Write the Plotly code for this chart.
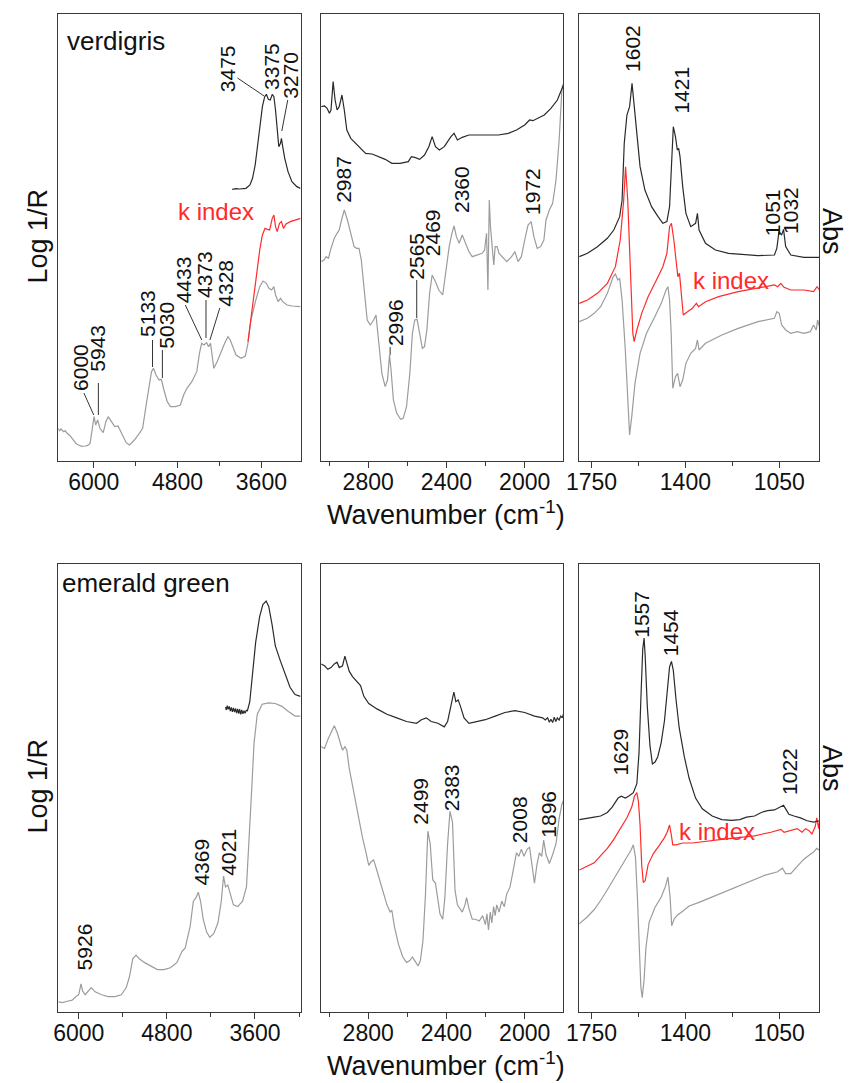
import plotly.graph_objects as go

W, H = 849, 1083
FONT = "Liberation Sans, Arial, sans-serif"

# ---------------- data (wavenumber cm-1, intensity in arbitrary units) ----------------
# verdigris, NIR region: Log 1/R (grey), k index (red), absorbance (black)
VER_NIR_LOGR = [(6507, 98), (6490, 90), (6470, 96), (6451, 92), (6430, 88), (6410, 91), (6380, 83),
                (6340, 76), (6287, 63), (6250, 52), (6216, 48), (6170, 44), (6122, 45), (6085, 47),
                (6052, 53), (6019, 93), (5995, 133), (5972, 108), (5944, 123), (5911, 98), (5864, 85),
                (5826, 118), (5793, 133), (5746, 118), (5699, 103), (5652, 105), (5605, 83), (5535, 55),
                (5488, 48), (5418, 63), (5347, 83), (5300, 98), (5253, 163), (5206, 233), (5173, 268),
                (5145, 278), (5108, 258), (5065, 243), (5032, 245), (4995, 213), (4948, 178), (4901, 163),
                (4830, 163), (4760, 168), (4713, 198), (4666, 218), (4596, 238), (4525, 268), (4487, 323),
                (4455, 353), (4422, 348), (4384, 355), (4356, 343), (4328, 353), (4281, 278), (4234, 298),
                (4187, 323), (4126, 353), (4079, 373), (4046, 363), (4009, 343), (3962, 318), (3891, 308),
                (3830, 315), (3792, 353), (3750, 423), (3680, 483), (3624, 523), (3577, 540), (3529, 533),
                (3492, 518), (3454, 513), (3421, 523), (3398, 498), (3360, 478), (3327, 488), (3295, 478),
                (3233, 468), (3163, 465), (3040, 463)]
VER_NIR_K = [(3792, 358), (3764, 403), (3727, 463), (3689, 523), (3656, 583), (3624, 633), (3586, 678),
             (3548, 698), (3515, 695), (3482, 693), (3445, 728), (3421, 738), (3398, 703), (3374, 688),
             (3341, 713), (3313, 718), (3285, 698), (3248, 711), (3186, 718), (3116, 723), (3040, 728)]
VER_NIR_ABS = [(4018, 815), (3960, 817), (3915, 816), (3870, 818), (3821, 818), (3764, 828), (3727, 848),
               (3689, 888), (3656, 943), (3624, 1003), (3586, 1063), (3553, 1093), (3529, 1100),
               (3501, 1085), (3473, 1083), (3445, 1100), (3421, 1093), (3398, 1053), (3369, 983),
               (3351, 943), (3327, 953), (3313, 968), (3295, 943), (3266, 908), (3219, 868), (3163, 838),
               (3093, 823), (3040, 818)]

# verdigris, MIR combination region
VER_MIR_ABS = [(3040, 1063), (3023, 1065), (3010, 1058), (2998, 1043), (2990, 1053), (2979, 1138),
               (2969, 1083), (2959, 1053), (2948, 1063), (2934, 1098), (2922, 1053), (2909, 993),
               (2889, 968), (2864, 953), (2839, 938), (2813, 923), (2780, 921), (2746, 913), (2713, 905),
               (2679, 893), (2637, 893), (2595, 898), (2579, 913), (2562, 911), (2537, 905), (2512, 918),
               (2490, 943), (2473, 973), (2456, 943), (2436, 933), (2411, 943), (2394, 958), (2377, 973),
               (2361, 983), (2344, 963), (2319, 971), (2285, 978), (2235, 978), (2185, 978), (2134, 978),
               (2084, 983), (2042, 993), (2000, 1008), (1975, 1023), (1958, 1021), (1933, 1028),
               (1900, 1038), (1866, 1058), (1833, 1083), (1802, 1128)]
VER_MIR_LOGR = [(3040, 598), (3026, 603), (3015, 613), (3003, 608), (2990, 638), (2973, 668), (2959, 683),
                (2948, 693), (2936, 723), (2922, 753), (2906, 723), (2889, 683), (2872, 643), (2859, 638),
                (2847, 638), (2835, 603), (2822, 523), (2805, 423), (2789, 408), (2772, 423), (2760, 438),
                (2746, 353), (2730, 263), (2713, 223), (2701, 243), (2691, 318), (2683, 273), (2671, 183),
                (2654, 143), (2634, 125), (2621, 128), (2604, 163), (2587, 263), (2574, 383), (2562, 423),
                (2550, 425), (2537, 383), (2523, 338), (2512, 343), (2500, 393), (2486, 503), (2473, 558),
                (2456, 538), (2439, 513), (2419, 498), (2403, 563), (2386, 643), (2372, 683), (2361, 705),
                (2349, 673), (2335, 653), (2319, 678), (2302, 653), (2285, 628), (2268, 613), (2243, 618),
                (2218, 623), (2205, 633), (2195, 683), (2188, 513), (2181, 783), (2175, 703), (2165, 623),
                (2158, 588), (2151, 643), (2141, 643), (2131, 623), (2114, 613), (2092, 598), (2067, 613),
                (2050, 628), (2034, 598), (2017, 613), (2000, 663), (1983, 708), (1967, 718), (1953, 673),
                (1936, 638), (1919, 643), (1902, 663), (1891, 723), (1874, 753), (1857, 773), (1840, 843),
                (1824, 963), (1810, 1113), (1802, 1133)]

# verdigris, MIR fundamental region
VER_FIR_ABS = [(1796, 613), (1765, 623), (1728, 643), (1691, 668), (1667, 693), (1655, 713), (1645, 733),
               (1636, 783), (1628, 953), (1618, 1038), (1608, 1063), (1599, 1133), (1590, 1053),
               (1581, 983), (1569, 883), (1551, 813), (1526, 763), (1502, 733), (1484, 713), (1469, 718),
               (1459, 763), (1452, 883), (1445, 1003), (1437, 973), (1430, 933), (1425, 938), (1420, 913),
               (1410, 823), (1398, 743), (1380, 703), (1362, 713), (1355, 743), (1349, 693), (1325, 653),
               (1288, 633), (1239, 623), (1178, 618), (1129, 616), (1068, 618), (1059, 638), (1051, 688),
               (1041, 678), (1034, 695), (1026, 643), (1007, 618), (958, 611), (900, 611)]
VER_FIR_K = [(1796, 473), (1765, 483), (1728, 503), (1691, 533), (1661, 583), (1643, 663), (1630, 783),
             (1623, 883), (1615, 783), (1606, 583), (1596, 383), (1591, 358), (1581, 393), (1563, 443),
             (1539, 493), (1508, 543), (1484, 583), (1469, 623), (1459, 703), (1452, 713), (1443, 663),
             (1435, 603), (1428, 553), (1422, 563), (1416, 503), (1408, 438), (1392, 448), (1374, 458),
             (1359, 473), (1351, 463), (1325, 478), (1276, 493), (1203, 508), (1129, 518), (1068, 528),
             (1056, 523), (1044, 533), (1032, 521), (1007, 513), (958, 513), (922, 508), (909, 523),
             (900, 513)]
VER_FIR_LOGR = [(1796, 418), (1765, 428), (1740, 443), (1716, 463), (1691, 503), (1669, 553), (1661, 561),
                (1652, 543), (1645, 548), (1636, 483), (1624, 333), (1615, 183), (1608, 78), (1600, 133),
                (1588, 233), (1569, 323), (1545, 383), (1514, 433), (1490, 473), (1472, 513), (1465, 523),
                (1459, 483), (1453, 383), (1447, 218), (1437, 253), (1429, 263), (1420, 223), (1410, 243),
                (1398, 293), (1380, 323), (1362, 338), (1355, 363), (1349, 333), (1325, 353), (1264, 378),
                (1203, 398), (1129, 418), (1068, 428), (1059, 448), (1050, 443), (1041, 408), (1026, 393),
                (1007, 383), (983, 388), (958, 383), (934, 388), (922, 408), (912, 393), (907, 423),
                (900, 403)]

# emerald green, NIR region
EM_NIR_LOGR = [(6277, 28), (6223, 26), (6156, 30), (6089, 33), (6036, 43), (6000, 48), (5969, 78),
               (5946, 58), (5911, 48), (5875, 58), (5830, 68), (5777, 56), (5688, 48), (5599, 43),
               (5509, 43), (5420, 48), (5353, 68), (5309, 98), (5264, 148), (5219, 158), (5175, 148),
               (5108, 138), (5019, 128), (4929, 118), (4840, 118), (4751, 123), (4662, 138), (4595, 168),
               (4550, 178), (4483, 238), (4439, 308), (4403, 318), (4372, 333), (4341, 308), (4305, 258),
               (4260, 223), (4216, 208), (4162, 218), (4104, 248), (4059, 308), (4028, 378), (4001, 348),
               (3970, 353), (3939, 328), (3894, 298), (3836, 293), (3769, 308), (3716, 348), (3680, 468),
               (3645, 618), (3613, 748), (3569, 828), (3502, 856), (3412, 860), (3323, 858), (3234, 850),
               (3145, 836), (3055, 823), (2980, 823)]
EM_NIR_ABS = [(4001, 848), (3990, 840), (3978, 852), (3965, 842), (3950, 850), (3936, 837), (3922, 847),
              (3908, 835), (3893, 846), (3879, 834), (3864, 844), (3850, 831), (3836, 843), (3822, 830),
              (3808, 842), (3794, 828), (3780, 840), (3765, 829), (3750, 838), (3735, 831), (3718, 839),
              (3703, 838), (3671, 863), (3636, 928), (3591, 1028), (3538, 1098), (3493, 1133), (3448, 1143),
              (3413, 1128), (3368, 1078), (3323, 1018), (3257, 978), (3190, 938), (3123, 903), (3055, 883),
              (2980, 878)]

# emerald green, MIR combination region
EM_MIR_ABS = [(3040, 968), (3023, 963), (3006, 953), (2990, 958), (2973, 968), (2959, 973), (2948, 958),
              (2931, 963), (2919, 990), (2909, 973), (2897, 948), (2880, 933), (2855, 918), (2839, 908),
              (2822, 878), (2797, 858), (2755, 843), (2704, 828), (2654, 818), (2604, 808), (2553, 803),
              (2528, 813), (2503, 818), (2478, 808), (2444, 803), (2411, 793), (2394, 808), (2377, 848),
              (2362, 890), (2352, 863), (2340, 868), (2327, 848), (2310, 818), (2285, 803), (2243, 808),
              (2201, 813), (2151, 823), (2101, 833), (2050, 838), (2000, 833), (1950, 823), (1908, 818),
              (1895, 812), (1883, 818), (1874, 806), (1866, 814), (1857, 805), (1849, 820), (1841, 808),
              (1833, 818), (1824, 812), (1816, 823), (1808, 818), (1802, 828)]
EM_MIR_LOGR = [(3040, 738), (3023, 733), (3006, 758), (2990, 778), (2973, 796), (2959, 778), (2948, 758),
               (2931, 728), (2919, 738), (2909, 728), (2897, 678), (2880, 628), (2864, 578), (2847, 538),
               (2830, 488), (2813, 448), (2797, 408), (2785, 418), (2772, 423), (2755, 393), (2730, 348),
               (2704, 298), (2688, 278), (2679, 283), (2666, 238), (2645, 188), (2623, 153), (2604, 138),
               (2587, 143), (2574, 153), (2562, 143), (2545, 128), (2533, 143), (2520, 198), (2507, 328),
               (2495, 503), (2483, 468), (2470, 368), (2456, 358), (2445, 318), (2433, 273), (2419, 258),
               (2408, 318), (2394, 468), (2382, 558), (2369, 528), (2356, 338), (2344, 298), (2332, 288),
               (2319, 278), (2305, 298), (2297, 318), (2285, 288), (2268, 258), (2251, 258), (2232, 253),
               (2215, 268), (2201, 243), (2193, 273), (2185, 228), (2176, 278), (2168, 248), (2159, 293),
               (2151, 268), (2143, 298), (2131, 278), (2117, 308), (2104, 293), (2092, 328), (2075, 348),
               (2059, 393), (2042, 443), (2030, 433), (2017, 453), (2004, 433), (1987, 453), (1975, 458),
               (1963, 408), (1950, 358), (1938, 408), (1925, 443), (1913, 433), (1903, 478), (1891, 438),
               (1874, 413), (1857, 438), (1840, 468), (1824, 538), (1810, 578), (1802, 588)]

# emerald green, MIR fundamental region
EM_FIR_ABS = [(1796, 535), (1765, 538), (1740, 542), (1716, 545), (1691, 555), (1673, 570), (1661, 585),
              (1651, 595), (1639, 600), (1624, 595), (1612, 600), (1594, 610), (1581, 635), (1573, 720),
              (1566, 870), (1559, 1010), (1554, 1040), (1550, 990), (1542, 850), (1532, 740), (1523, 690),
              (1513, 695), (1503, 710), (1490, 750), (1478, 810), (1468, 890), (1459, 960), (1452, 975),
              (1445, 950), (1435, 870), (1423, 790), (1404, 710), (1386, 650), (1362, 595), (1337, 565),
              (1300, 545), (1264, 535), (1227, 533), (1197, 535), (1172, 542), (1142, 545), (1117, 555),
              (1093, 560), (1068, 562), (1050, 570), (1034, 575), (1026, 565), (1014, 550), (995, 545),
              (971, 540), (946, 532), (922, 528), (900, 532)]
EM_FIR_K = [(1796, 395), (1765, 405), (1740, 415), (1716, 435), (1691, 455), (1667, 480), (1643, 510),
            (1618, 540), (1600, 570), (1590, 600), (1581, 610), (1575, 585), (1569, 520), (1563, 410),
            (1557, 360), (1550, 365), (1539, 410), (1520, 440), (1496, 465), (1478, 485), (1468, 500),
            (1459, 520), (1453, 495), (1447, 465), (1435, 465), (1410, 470), (1374, 470), (1325, 475),
            (1264, 480), (1203, 485), (1142, 490), (1081, 500), (1044, 508), (1032, 500), (1007, 505),
            (983, 510), (965, 500), (952, 510), (940, 505), (928, 495), (916, 515), (910, 540), (903, 510),
            (900, 530)]
EM_FIR_LOGR = [(1796, 245), (1765, 265), (1740, 285), (1716, 310), (1691, 340), (1667, 370), (1643, 400),
               (1618, 430), (1603, 450), (1594, 465), (1586, 430), (1579, 320), (1572, 170), (1566, 70),
               (1561, 40), (1554, 90), (1547, 180), (1535, 250), (1514, 290), (1490, 320), (1474, 350),
               (1465, 375), (1457, 320), (1451, 240), (1441, 260), (1429, 270), (1410, 280), (1386, 295),
               (1349, 305), (1300, 320), (1252, 335), (1203, 350), (1154, 365), (1105, 380), (1056, 390),
               (1038, 400), (1026, 385), (1007, 385), (983, 405), (958, 425), (940, 435), (922, 445),
               (910, 455), (900, 450)]

# x ranges of the three spectral windows (cm-1, reversed)
X_RANGES = {"nir_top": [6507, 3040], "nir_bot": [6278, 2980], "mir": [3040, 1802], "fir": [1796, 900]}

# ---------------- figure ----------------
BLACK, GREY, RED = "#2a2a2a", "#9c9c9c", "#ff2a2a"
AXC = "#3a3a3a"

fig = go.Figure()

def add(series, color, ax):
    xs = [p[0] for p in series]
    ys = [p[1] for p in series]
    fig.add_trace(go.Scatter(x=xs, y=ys, mode="lines", line=dict(color=color, width=1.2),
                             xaxis="x" + ax, yaxis="y" + ax, showlegend=False, hoverinfo="skip"))

add(VER_NIR_LOGR, GREY, "")
add(VER_NIR_K, RED, "")
add(VER_NIR_ABS, BLACK, "")
add(VER_MIR_LOGR, GREY, "2")
add(VER_MIR_ABS, BLACK, "2")
add(VER_FIR_LOGR, GREY, "3")
add(VER_FIR_K, RED, "3")
add(VER_FIR_ABS, BLACK, "3")
add(EM_NIR_LOGR, GREY, "4")
add(EM_NIR_ABS, BLACK, "4")
add(EM_MIR_LOGR, GREY, "5")
add(EM_MIR_ABS, BLACK, "5")
add(EM_FIR_LOGR, GREY, "6")
add(EM_FIR_K, RED, "6")
add(EM_FIR_ABS, BLACK, "6")

cols = [(46, 292), (313, 559), (575, 819)]
rows = [(14, 461), (564, 1012)]
xset = [
    (X_RANGES["nir_top"], 3600, 1200, 600),
    (X_RANGES["mir"], 2000, 400, 200),
    (X_RANGES["fir"], 1050, 350, 175),
    (X_RANGES["nir_bot"], 3600, 1200, 600),
    (X_RANGES["mir"], 2000, 400, 200),
    (X_RANGES["fir"], 1050, 350, 175),
]
yspan = [1341, 1341, 1341, 1246, 1246, 1246]

layout = {}
for i in range(6):
    r, c = divmod(i, 3)
    suf = "" if i == 0 else str(i + 1)
    rng, t0, dt, mdt = xset[i]
    x0, x1 = cols[c]
    yt, yb = rows[r]
    layout["xaxis" + suf] = dict(
        domain=[x0 / W, x1 / W], range=rng, anchor="y" + suf,
        showline=True, mirror=True, linecolor=AXC, linewidth=1.3,
        ticks="outside", ticklen=6, tickwidth=1.2, tickcolor=AXC,
        tickmode="linear", tick0=t0, dtick=dt, ticklabelstandoff=-6,
        minor=dict(ticks="outside", ticklen=4, tickwidth=1, tickcolor=AXC, tickmode="linear",
                   tick0=t0, dtick=mdt),
        tickfont=dict(family=FONT, size=23, color="#111"),
        showgrid=False, zeroline=False, fixedrange=True)
    layout["yaxis" + suf] = dict(
        domain=[1 - yb / H, 1 - yt / H], range=[0, yspan[i]], anchor="x" + suf,
        showline=True, mirror=True, linecolor=AXC, linewidth=1.3,
        ticks="", showticklabels=False, showgrid=False, zeroline=False, fixedrange=True)

fig.update_layout(width=W, height=H, margin=dict(l=0, r=0, t=0, b=0),
                  paper_bgcolor="white", plot_bgcolor="white", **layout)

def label(text, x, y, size=21, angle=-90, color="#111", xanchor="center"):
    fig.add_annotation(text=text, x=x / W, y=1 - y / H, xref="paper", yref="paper",
                       showarrow=False, textangle=angle, xanchor=xanchor, yanchor="middle",
                       font=dict(family=FONT, size=size, color=color))

def leader(x0, y0, x1, y1):
    fig.add_shape(type="line", xref="paper", yref="paper", x0=x0 / W, y0=1 - y0 / H,
                  x1=x1 / W, y1=1 - y1 / H, line=dict(color="#333", width=1))

# titles
label("Log 1/R", 25, 236, size=27)
label("Log 1/R", 25, 786, size=27)
label("Abs", W, 231, size=27, angle=90, xanchor="right")
label("Abs", W, 768, size=27, angle=90, xanchor="right")
label("Wavenumber (cm<sup>-1</sup>)", 440, 513, size=27, angle=0)
label("Wavenumber (cm<sup>-1</sup>)", 440, 1064, size=27, angle=0)
label("verdigris", 53, 41, size=26, angle=0, xanchor="left")
label("emerald green", 48, 583, size=26, angle=0, xanchor="left")
label("k index", 206, 211, size=24, angle=0, color=RED)
label("k index", 729, 281, size=24, angle=0, color=RED)
label("k index", 715, 831, size=24, angle=0, color=RED)

# verdigris NIR peaks
for t, x, y in [("3475", 217.5, 69), ("3375", 263, 66), ("3270", 281, 75), ("6000", 68, 367),
                ("5943", 85, 348), ("5133", 136, 313), ("5030", 155, 325), ("4433", 173, 280),
                ("4373", 194, 275), ("4328", 216, 283)]:
    label(t, x, y)
leader(228, 78, 255, 96)
leader(279, 100, 273, 131)
leader(72, 393, 82, 415)
leader(86.7, 383, 86.7, 415)
leader(141.7, 340, 141.7, 367)
leader(151.7, 350, 151.7, 378)
leader(175, 305, 191.7, 340)
leader(196, 300, 196, 338)
leader(210, 308, 200, 340)

# verdigris MIR peaks
for t, x, y in [("2987", 336, 179), ("2996", 388, 323), ("2565", 410, 256), ("2469", 426.7, 233),
                ("2360", 455, 190), ("1972", 528, 191)]:
    label(t, x, y)
leader(410, 280, 410, 318)
leader(383, 347, 383, 355)

# verdigris fundamentals
for t, x, y in [("1602", 628.6, 48), ("1421", 679, 90), ("1051", 771, 213), ("1032", 789, 210)]:
    label(t, x, y)

# emerald green
for t, x, y in [("5926", 72.5, 947), ("4369", 190.5, 862), ("4021", 218, 852),
                ("2499", 413, 801), ("2383", 445, 788), ("2008", 514, 820), ("1896", 543, 814),
                ("1557", 637.5, 614), ("1454", 667.5, 633), ("1629", 616, 752), ("1022", 788, 771)]:
    label(t, x, y)

fig.write_html("out.html")
